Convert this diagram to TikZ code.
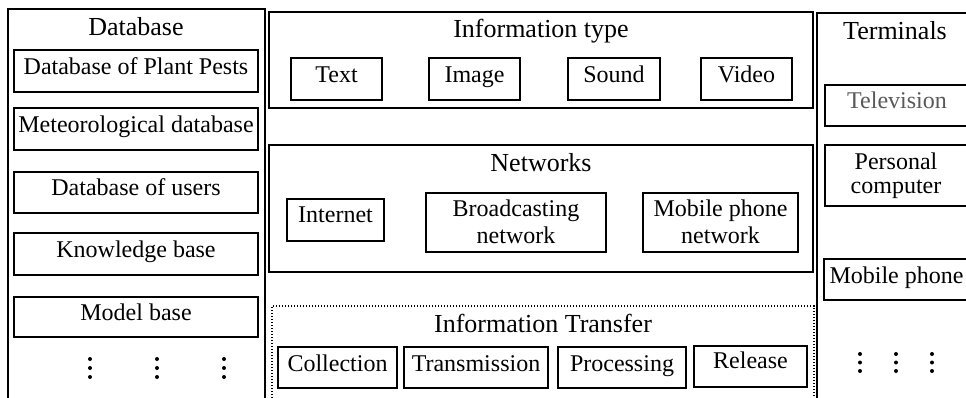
\documentclass[tikz,border=0pt]{standalone}
\usepackage{fontspec}
\setmainfont{Liberation Serif}
\begin{document}
\begin{tikzpicture}[x=1pt,y=-1pt,
  panel/.style={line width=1.8pt},
  dotpanel/.style={line width=1.6pt, dash pattern=on 1.4pt off 1.6pt},
  ibox/.style={draw, line width=1.8pt, inner sep=0pt},
  lbl/.style={anchor=base, inner sep=0pt, font=\fontsize{24}{27}\selectfont},
  ttl/.style={anchor=base, inner sep=0pt, font=\fontsize{26}{30}\selectfont}]
\useasboundingbox (0,0) rectangle (966,397);
\clip (0,0) rectangle (966,397);

% ---------- Database panel ----------
\draw[panel] (8,410) |- (265,9) -- (265,410);
\node[ttl] (dbt) at (136,35) {Database};
\node[ibox, minimum width=244pt, minimum height=42pt] (pests) at (136,71) {};
\node[lbl] (pestsl) at (136,74) {Database of Plant Pests};
\node[ibox, minimum width=244pt, minimum height=42pt] (meteo) at (136,129) {};
\node[lbl] (meteol) at (136,132) {Meteorological database};
\node[ibox, minimum width=244pt, minimum height=41pt] (users) at (136,192.5) {};
\node[lbl] (usersl) at (136,195) {Database of users};
\node[ibox, minimum width=244pt, minimum height=42pt] (know) at (136,254) {};
\node[lbl] (knowl) at (136,257) {Knowledge base};
\node[ibox, minimum width=244pt, minimum height=40pt] (model) at (136,317) {};
\node[lbl] (modell) at (136,320) {Model base};
\foreach \x in {90,157,224}
  \foreach \y in {359,368,377}
    \fill (\x,\y) circle (2pt);

% ---------- Information type ----------
\node[ibox, minimum width=544pt, minimum height=96pt] (itype) at (541,60) {};
\node[ttl] (itypet) at (541,37) {Information type};
\node[ibox, minimum width=91pt, minimum height=42pt] (text) at (336.5,79) {};
\node[lbl] (textl) at (336.5,82) {Text};
\node[ibox, minimum width=91pt, minimum height=42pt] (image) at (474.5,79) {};
\node[lbl] (imagel) at (474.5,82) {Image};
\node[ibox, minimum width=92pt, minimum height=42pt] (sound) at (614,79) {};
\node[lbl] (soundl) at (614,82) {Sound};
\node[ibox, minimum width=91pt, minimum height=42pt] (video) at (746.5,79) {};
\node[lbl] (videol) at (746.5,82) {Video};

% ---------- Networks ----------
\node[ibox, minimum width=544pt, minimum height=127pt] (nets) at (541,208.5) {};
\node[ttl] (netst) at (541,171) {Networks};
\node[ibox, minimum width=97pt, minimum height=42pt] (inet) at (335.5,220) {};
\node[lbl] (inetl) at (335.5,222) {Internet};
\node[ibox, minimum width=180pt, minimum height=59pt] (bcast) at (516,222.5) {};
\node[lbl] (bcastl1) at (516,216) {Broadcasting};
\node[lbl] (bcastl2) at (516,243) {network};
\node[ibox, minimum width=155pt, minimum height=59pt] (mnet) at (720.5,222.5) {};
\node[lbl] (mnetl1) at (720.5,216) {Mobile phone};
\node[lbl] (mnetl2) at (720.5,243) {network};

% ---------- Information Transfer ----------
\draw[dotpanel] (272,410) |- (814,306) -- (814,410);
\node[ttl] (trt) at (543,332) {Information Transfer};
\node[ibox, minimum width=119pt, minimum height=41pt] (coll) at (337.5,367.5) {};
\node[lbl] (colll) at (337.5,371) {Collection};
\node[ibox, minimum width=144pt, minimum height=41pt] (trans) at (476,367.5) {};
\node[lbl] (transl) at (476,371) {Transmission};
\node[ibox, minimum width=128pt, minimum height=41pt] (proc) at (622,367.5) {};
\node[lbl] (procl) at (622,371) {Processing};
\node[ibox, minimum width=113pt, minimum height=41pt] (rel) at (750.5,366.5) {};
\node[lbl] (rell) at (750.5,368) {Release};

% ---------- Terminals ----------
\draw[panel] (817,410) |- (980,13);
\node[ttl] (termt) at (895,39) {Terminals};
\node[ibox, minimum width=145pt, minimum height=41pt] (tv) at (897.5,105.5) {};
\node[lbl, text=black!65] (tvl) at (897,108) {Television};
\node[ibox, minimum width=145pt, minimum height=61pt] (pc) at (897.5,175.5) {};
\node[lbl] (pcl1) at (896,169) {Personal};
\node[lbl] (pcl2) at (896,193) {computer};
\node[ibox, minimum width=145pt, minimum height=41pt] (mob) at (896.5,279.5) {};
\node[lbl] (mobl) at (896.5,283) {Mobile phone};
\foreach \x in {860,896,932}
  \foreach \y in {354,362.5,371}
    \fill (\x,\y) circle (2pt);
\end{tikzpicture}
\end{document}
